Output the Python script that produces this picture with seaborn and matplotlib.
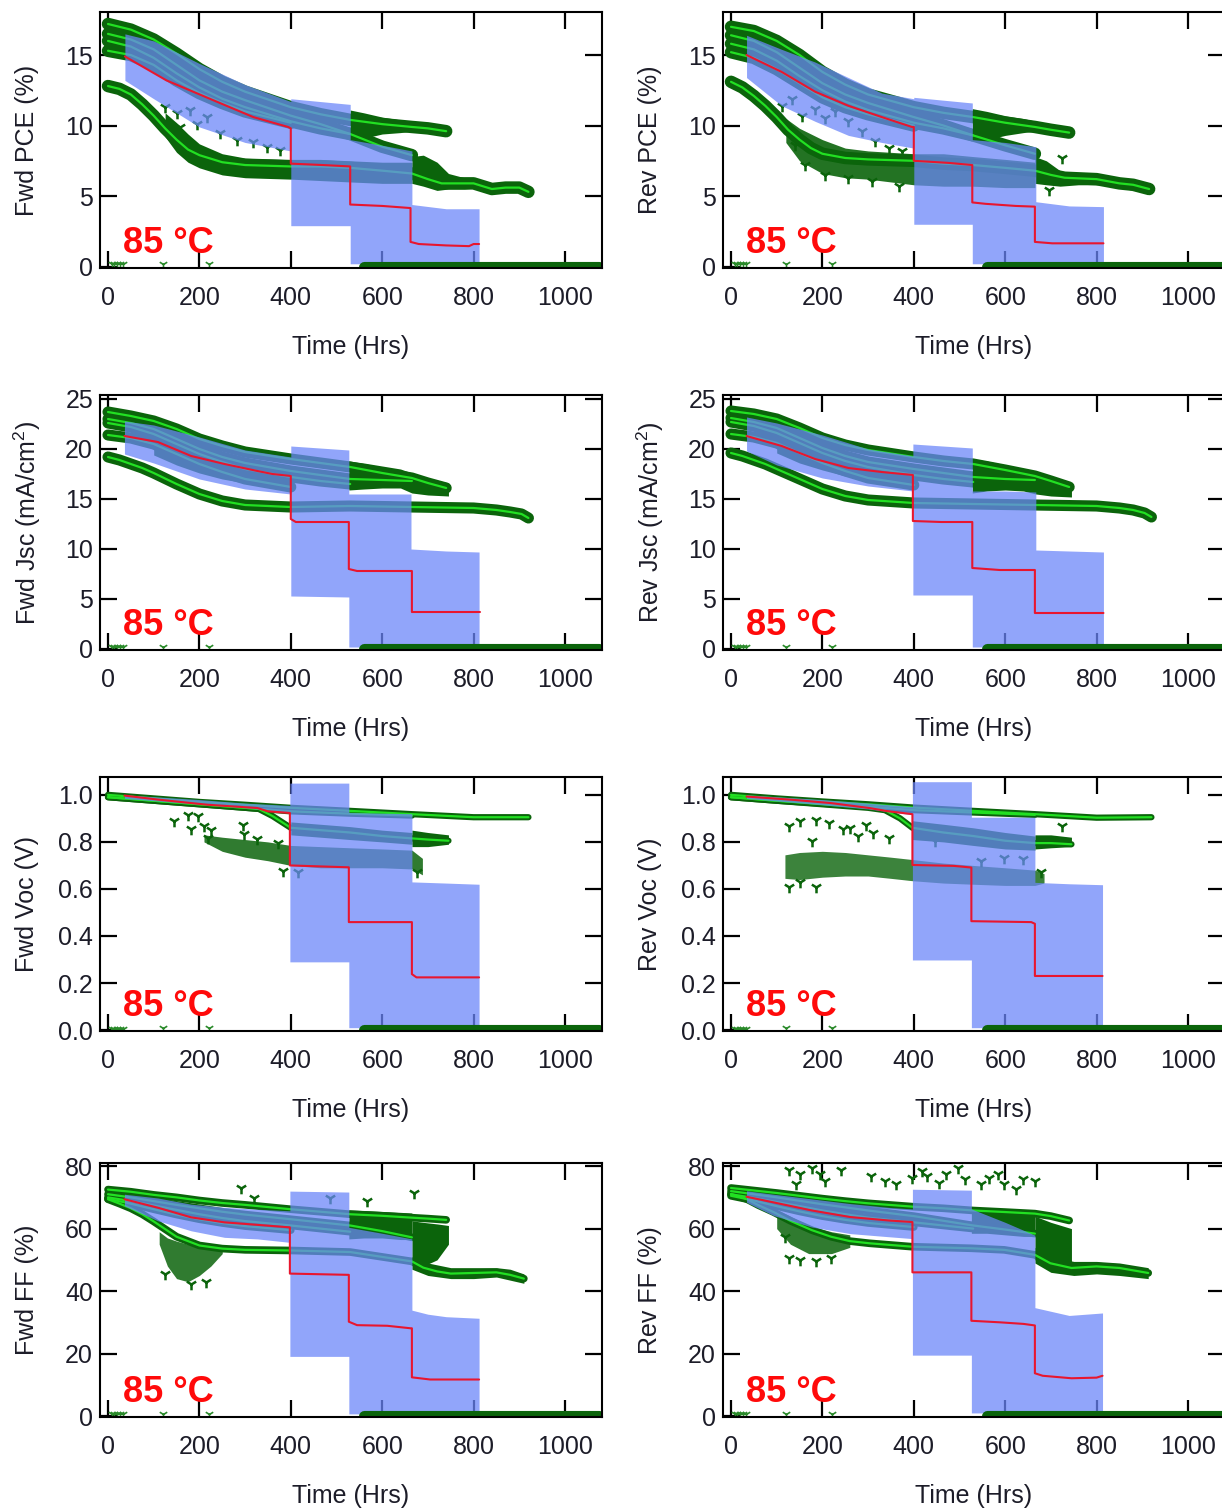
import matplotlib
matplotlib.use("Agg")
import matplotlib.pyplot as plt
import seaborn as sns

sns.set_theme(style="white")
plt.rcParams["font.family"] = ["Liberation Sans", "DejaVu Sans"]
plt.rcParams["mathtext.fontset"] = "custom"
plt.rcParams["mathtext.rm"] = "Liberation Sans"

DARK = "#0b640b"
LIME = "#22e022"
BLUE = "#6b86f9"
RED = "#e8162e"
TEXT_C = "#1c1c28"

# ---------------------------------------------------------------- time grids
HRS_TOP = [0, 50, 100, 150, 200, 250, 300, 400, 465, 530, 600, 665, 700, 740]
EARLY_HRS = [8, 14, 20, 26, 33, 120, 222]
FAILED_HRS = [560, 1075]

# ---------------------------------------------------------------- PCE (Fwd)
fwd_pce_t1 = [17.2, 16.8, 16.1, 15.1, 14.0, 13.1, 12.4, 11.3, 10.8, 10.4, 10.1, 9.9, 9.8, 9.6]
fwd_pce_t2 = [16.5, 16.1, 15.4, 14.3, 13.2, 12.4, 11.8, 10.7, 10.1, 9.4, 8.5, 7.9]
fwd_pce_t3 = [16.0, 15.6, 14.8, 13.7, 12.7, 11.9, 11.3, 10.3, 9.8, 9.4]
fwd_pce_t4 = [15.3, 15.0, 14.3, 13.2, 12.3, 11.6, 11.0, 10.2]
fwd_pce_l_hrs = [0, 25, 50, 75, 100, 125, 150, 175, 200, 250, 300, 400, 465, 530, 600, 665,
                 700, 730, 800, 840, 870, 900, 920]
fwd_pce_l = [12.8, 12.6, 12.2, 11.5, 10.7, 9.8, 9.0, 8.3, 7.9, 7.4, 7.2, 7.1, 7.1, 7.0, 6.8, 6.6,
             6.2, 5.9, 5.9, 5.5, 5.6, 5.6, 5.3]
fwd_pce_s1_hrs = [125, 150, 175, 200, 250, 300, 400, 465, 530, 600, 665]
fwd_pce_s1_lo = [9.2, 8.1, 7.4, 7.0, 6.5, 6.3, 6.2, 6.1, 6.0, 5.9, 5.9]
fwd_pce_s1_hi = [10.9, 10.2, 9.4, 8.7, 8.0, 7.7, 7.6, 7.6, 7.5, 7.4, 7.4]
fwd_pce_s2_hrs = [665, 690, 720, 745, 780, 812]
fwd_pce_s2_lo = [5.9, 5.7, 5.4, 5.5, 5.5, 5.6]
fwd_pce_s2_hi = [7.8, 7.9, 7.4, 6.6, 6.3, 6.2]
fwd_pce_s3_hrs = [530, 560, 600, 640, 665, 700, 740]
fwd_pce_s3_lo = [9.2, 9.1, 9.4, 9.5, 9.6, 9.5, 9.3]
fwd_pce_s3_hi = [11.1, 10.9, 10.6, 10.4, 10.3, 10.1, 9.8]
fwd_pce_band_hrs = [37, 100, 200, 300, 400, 400, 530, 530, 600, 665, 665, 740, 812]
fwd_pce_band_hi = [16.5, 16.0, 14.4, 12.9, 11.7, 11.9, 11.5, 9.0, 8.6, 8.2, 4.4, 4.1, 4.1]
fwd_pce_band_lo = [13.2, 11.9, 9.9, 8.8, 8.2, 2.9, 2.9, 0.2, 0.2, 0.2, 0.2, 0.2, 0.2]
fwd_pce_mean_hrs = [37, 128, 230, 318, 394, 400, 400, 470, 530, 530, 600, 662, 662, 680, 740, 790, 800, 812]
fwd_pce_mean = [14.9, 13.2, 11.8, 10.6, 9.9, 9.8, 7.3, 7.2, 7.1, 4.4, 4.3, 4.15, 1.75, 1.6, 1.5, 1.45, 1.6, 1.6]
fwd_pce_out_hrs = [125, 151, 179, 216, 157, 194, 245, 282, 318, 347, 376]
fwd_pce_out = [11.3, 10.9, 11.1, 10.6, 9.9, 10.1, 9.5, 9.0, 8.8, 8.5, 8.3]
pce_early = [0.15, 0.15, 0.15, 0.15, 0.15, 0.2, 0.2]

# ---------------------------------------------------------------- PCE (Rev)
rev_pce_t1 = [17.0, 16.7, 16.0, 15.0, 13.8, 12.9, 12.2, 11.3, 10.9, 10.6, 10.2, 9.9, 9.7, 9.5]
rev_pce_t2 = [16.4, 16.0, 15.2, 14.1, 13.0, 12.2, 11.6, 10.6, 10.0, 9.3, 8.6, 8.0]
rev_pce_t3 = [15.8, 15.4, 14.6, 13.5, 12.5, 11.7, 11.1, 10.2, 9.8, 9.3]
rev_pce_t4 = [15.2, 14.8, 14.0, 13.0, 12.0, 11.3, 10.8, 10.0]
rev_pce_l_hrs = [0, 25, 50, 75, 100, 125, 150, 175, 200, 250, 300, 400, 465, 530, 600, 665,
                 700, 730, 800, 850, 880, 915]
rev_pce_l = [13.1, 12.7, 12.1, 11.4, 10.6, 9.7, 9.0, 8.4, 8.0, 7.7, 7.6, 7.5, 7.3, 7.2, 7.0, 6.8,
             6.5, 6.3, 6.2, 5.9, 5.8, 5.5]
rev_pce_s1_hrs = [120, 150, 200, 250, 300, 400, 465, 530, 600, 665]
rev_pce_s1_lo = [8.8, 7.5, 6.6, 6.3, 6.2, 5.8, 5.7, 5.7, 5.6, 5.6]
rev_pce_s1_hi = [10.5, 9.8, 9.0, 8.4, 8.2, 8.0, 8.0, 7.8, 7.6, 7.4]
rev_pce_s2_hrs = [665, 690, 720, 760, 812, 850, 880, 915]
rev_pce_s2_lo = [5.9, 5.8, 5.7, 5.8, 5.8, 5.6, 5.4, 5.3]
rev_pce_s2_hi = [7.8, 7.5, 6.8, 6.5, 6.4, 6.2, 6.0, 5.7]
rev_pce_s3_hrs = [528, 560, 600, 640, 667, 700, 740]
rev_pce_s3_lo = [9.1, 9.0, 9.3, 9.5, 9.6, 9.5, 9.3]
rev_pce_s3_hi = [11.2, 11.0, 10.7, 10.5, 10.3, 10.1, 9.8]
rev_pce_band_hrs = [34, 111, 184, 257, 330, 400, 400, 528, 528, 600, 667, 667, 740, 815]
rev_pce_band_hi = [16.4, 15.4, 14.5, 13.4, 12.3, 11.9, 12.0, 11.6, 9.0, 8.8, 8.5, 4.6, 4.3, 4.25]
rev_pce_band_lo = [13.4, 11.4, 10.3, 9.3, 8.8, 8.4, 3.0, 3.0, 0.2, 0.2, 0.2, 0.2, 0.2, 0.2]
rev_pce_mean_hrs = [34, 111, 184, 257, 330, 396, 400, 400, 477, 528, 528, 557, 623, 665, 665, 703, 815]
rev_pce_mean = [15.0, 13.8, 12.4, 11.4, 10.6, 9.9, 9.9, 7.5, 7.35, 7.2, 4.55, 4.45, 4.3, 4.25, 1.75, 1.65, 1.65]
rev_pce_out_hrs = [111, 133, 155, 184, 206, 228, 257, 287, 316, 345, 374, 140, 162, 206, 257, 309, 367, 696, 725]
rev_pce_out = [11.4, 11.9, 10.7, 11.2, 10.5, 11.0, 10.3, 9.6, 8.9, 8.4, 8.2, 8.6, 7.2, 6.5, 6.3, 6.1, 5.7, 5.4, 7.7]

# ---------------------------------------------------------------- Jsc (Fwd)
fwd_jsc_t1 = [23.7, 23.3, 22.8, 22.0, 21.0, 20.3, 19.7, 19.0, 18.6, 18.2, 17.6, 17.1, 16.6, 16.1]
fwd_jsc_t2 = [23.0, 22.6, 22.0, 21.0, 20.0, 19.2, 18.6, 17.8, 17.4, 17.0, 16.9, 16.8]
fwd_jsc_t3 = [22.6, 22.2, 21.5, 20.5, 19.5, 18.7, 18.0, 17.2, 16.8, 16.5]
fwd_jsc_t4 = [21.4, 21.1, 20.5, 19.5, 18.5, 17.7, 17.0, 16.2]
jsc_l_hrs = [0, 25, 50, 75, 100, 150, 200, 250, 300, 400, 530, 665, 800, 850, 880, 905, 920]
fwd_jsc_l = [19.2, 18.9, 18.5, 18.1, 17.6, 16.5, 15.5, 14.8, 14.4, 14.2, 14.3, 14.2, 14.1, 13.9, 13.7, 13.5, 13.1]
fwd_jsc_s1_hrs = [100, 150, 200, 250, 300, 350, 400]
fwd_jsc_s1_lo = [19.4, 18.4, 17.6, 17.0, 16.6, 16.4, 16.2]
fwd_jsc_s1_hi = [20.4, 19.7, 18.9, 18.1, 17.6, 17.2, 17.0]
fwd_jsc_s2_hrs = [527, 560, 600, 640, 665, 700, 745]
fwd_jsc_s2_lo = [15.9, 16.0, 16.1, 16.1, 15.6, 15.4, 15.3]
fwd_jsc_s2_hi = [18.8, 18.6, 18.3, 18.0, 17.6, 17.1, 16.6]
fwd_jsc_band_hrs = [36, 100, 200, 300, 400, 400, 527, 527, 600, 663, 663, 740, 812]
fwd_jsc_band_hi = [22.8, 22.4, 21.2, 19.9, 19.2, 20.3, 19.9, 15.5, 15.5, 15.5, 10.0, 9.8, 9.7]
fwd_jsc_band_lo = [19.5, 18.6, 17.0, 16.0, 15.5, 5.3, 5.2, 0.2, 0.2, 0.2, 0.2, 0.2, 0.2]
fwd_jsc_mean_hrs = [36, 109, 182, 255, 327, 360, 400, 400, 411, 527, 527, 545, 665, 665, 814]
fwd_jsc_mean = [21.3, 20.7, 19.3, 18.5, 17.8, 17.5, 17.3, 13.0, 12.7, 12.7, 8.0, 7.8, 7.8, 3.7, 3.7]
jsc_early = [0.2, 0.2, 0.2, 0.2, 0.2, 0.25, 0.25]

# ---------------------------------------------------------------- Jsc (Rev)
rev_jsc_t1 = [23.8, 23.5, 23.0, 22.1, 21.1, 20.4, 19.9, 19.2, 18.8, 18.5, 17.9, 17.3, 16.8, 16.2]
rev_jsc_t2 = [23.1, 22.7, 22.1, 21.1, 20.1, 19.3, 18.7, 18.0, 17.6, 17.2, 17.0, 16.9]
rev_jsc_t3 = [22.7, 22.3, 21.6, 20.6, 19.6, 18.8, 18.2, 17.4, 17.0, 16.7]
rev_jsc_t4 = [21.5, 21.2, 20.6, 19.6, 18.6, 17.8, 17.1, 16.4]
rev_jsc_l = [19.6, 19.3, 18.9, 18.5, 18.0, 17.0, 16.0, 15.3, 14.9, 14.6, 14.5, 14.4, 14.3, 14.1, 13.9, 13.6, 13.2]
rev_jsc_s1_hrs = [100, 150, 200, 250, 300, 350, 398]
rev_jsc_s1_lo = [19.6, 18.6, 17.9, 17.3, 16.9, 16.7, 16.5]
rev_jsc_s1_hi = [20.6, 19.9, 19.1, 18.3, 17.8, 17.4, 17.2]
rev_jsc_s2_hrs = [528, 560, 600, 640, 667, 700, 745]
rev_jsc_s2_lo = [15.6, 15.8, 15.9, 15.8, 15.5, 15.3, 15.2]
rev_jsc_s2_hi = [19.0, 18.8, 18.4, 18.0, 17.7, 17.2, 16.6]
rev_jsc_band_hrs = [34, 100, 200, 300, 398, 398, 528, 528, 600, 667, 667, 740, 815]
rev_jsc_band_hi = [23.2, 22.6, 21.4, 20.0, 19.3, 20.5, 20.1, 15.8, 15.8, 15.7, 9.9, 9.8, 9.7]
rev_jsc_band_lo = [19.8, 18.4, 17.1, 16.3, 15.8, 5.4, 5.4, 0.2, 0.2, 0.2, 0.2, 0.2, 0.2]
rev_jsc_mean_hrs = [34, 111, 184, 257, 330, 398, 398, 460, 528, 528, 588, 665, 665, 815]
rev_jsc_mean = [21.3, 20.3, 19.0, 18.1, 17.7, 17.4, 12.8, 12.7, 12.7, 8.1, 7.9, 7.9, 3.6, 3.6]

# ---------------------------------------------------------------- Voc (Fwd)
voc_a_hrs = [0, 100, 200, 300, 400, 530, 665, 800, 920]
voc_b_hrs = [0, 100, 200, 300, 400, 530, 665]
fwd_voc_a = [1.0, 0.985, 0.97, 0.958, 0.945, 0.932, 0.918, 0.905, 0.905]
fwd_voc_b = [0.99, 0.975, 0.96, 0.945, 0.93, 0.92, 0.912]
fwd_voc_c_hrs = [0, 100, 200, 300, 330, 360, 400, 465, 530, 600, 665, 700, 745]
fwd_voc_c = [0.99, 0.975, 0.96, 0.945, 0.94, 0.91, 0.86, 0.85, 0.84, 0.825, 0.815, 0.81, 0.805]
fwd_voc_s1_hrs = [210, 250, 300, 350, 400, 465, 530, 600, 665, 688]
fwd_voc_s1_lo = [0.80, 0.76, 0.735, 0.72, 0.70, 0.69, 0.69, 0.69, 0.685, 0.66]
fwd_voc_s1_hi = [0.83, 0.82, 0.81, 0.80, 0.785, 0.78, 0.775, 0.77, 0.765, 0.73]
fwd_voc_s2_hrs = [665, 700, 745]
fwd_voc_s2_lo = [0.78, 0.78, 0.79]
fwd_voc_s2_hi = [0.85, 0.84, 0.83]
fwd_voc_s3_hrs = [400, 465, 530, 600, 665]
fwd_voc_s3_lo = [0.83, 0.82, 0.81, 0.80, 0.79]
fwd_voc_s3_hi = [0.885, 0.875, 0.865, 0.85, 0.84]
fwd_voc_band_hrs = [36, 200, 300, 398, 398, 527, 527, 600, 665, 665, 740, 812]
fwd_voc_band_hi = [1.0, 0.98, 0.965, 0.955, 1.05, 1.05, 0.925, 0.922, 0.92, 0.63, 0.625, 0.62]
fwd_voc_band_lo = [0.985, 0.96, 0.945, 0.925, 0.29, 0.29, 0.01, 0.01, 0.01, 0.01, 0.01, 0.01]
fwd_voc_mean_hrs = [36, 109, 218, 327, 350, 398, 398, 527, 527, 665, 665, 675, 812]
fwd_voc_mean = [0.997, 0.98, 0.958, 0.944, 0.93, 0.923, 0.70, 0.692, 0.459, 0.459, 0.238, 0.224, 0.224]
fwd_voc_out_hrs = [145, 175, 196, 182, 211, 225, 295, 298, 327, 371, 382, 415, 218, 676]
fwd_voc_out = [0.891, 0.916, 0.912, 0.853, 0.867, 0.849, 0.874, 0.832, 0.811, 0.797, 0.678, 0.671, 0.818, 0.671]
voc_early = [0.006, 0.006, 0.006, 0.006, 0.006, 0.008, 0.008]

# ---------------------------------------------------------------- Voc (Rev)
rev_voc_a = [1.0, 0.985, 0.972, 0.96, 0.946, 0.932, 0.918, 0.903, 0.905]
rev_voc_b = [0.99, 0.975, 0.962, 0.95, 0.935, 0.925, 0.915]
rev_voc_c_hrs = [0, 100, 200, 300, 337, 370, 397, 465, 530, 600, 665, 700, 745]
rev_voc_c = [0.99, 0.975, 0.96, 0.945, 0.935, 0.90, 0.86, 0.84, 0.825, 0.805, 0.795, 0.795, 0.79]
rev_voc_s1_hrs = [118, 150, 200, 250, 300, 350, 397, 465, 530, 600, 665, 685]
rev_voc_s1_lo = [0.645, 0.64, 0.65, 0.655, 0.655, 0.645, 0.635, 0.625, 0.62, 0.615, 0.615, 0.625]
rev_voc_s1_hi = [0.745, 0.755, 0.76, 0.755, 0.745, 0.735, 0.725, 0.71, 0.70, 0.69, 0.68, 0.665]
rev_voc_s2_hrs = [665, 700, 745]
rev_voc_s2_lo = [0.77, 0.775, 0.78]
rev_voc_s2_hi = [0.83, 0.83, 0.82]
rev_voc_s3_hrs = [397, 465, 530, 600, 665]
rev_voc_s3_lo = [0.81, 0.80, 0.785, 0.77, 0.765]
rev_voc_s3_hi = [0.89, 0.875, 0.86, 0.84, 0.825]
rev_voc_band_hrs = [34, 200, 300, 397, 397, 526, 526, 600, 665, 665, 740, 813]
rev_voc_band_hi = [1.0, 0.98, 0.965, 0.95, 1.056, 1.056, 0.905, 0.905, 0.905, 0.628, 0.622, 0.618]
rev_voc_band_lo = [0.985, 0.958, 0.94, 0.915, 0.298, 0.298, 0.01, 0.01, 0.01, 0.01, 0.01, 0.01]
rev_voc_mean_hrs = [34, 135, 219, 303, 345, 397, 397, 488, 526, 526, 657, 665, 665, 813]
rev_voc_mean = [0.993, 0.979, 0.965, 0.944, 0.93, 0.918, 0.702, 0.698, 0.691, 0.463, 0.459, 0.452, 0.23, 0.23]
rev_voc_out_hrs = [126, 152, 185, 215, 244, 261, 295, 311, 126, 152, 185, 177, 278, 345, 446, 547, 598, 640, 678, 724]
rev_voc_out = [0.867, 0.888, 0.895, 0.881, 0.853, 0.860, 0.874, 0.838, 0.607, 0.628, 0.607, 0.803, 0.824,
               0.817, 0.803, 0.719, 0.733, 0.726, 0.67, 0.867]

# ---------------------------------------------------------------- FF (Fwd)
fwd_ff_a = [72.5, 71.8, 70.8, 70.0, 69.0, 68.2, 67.6, 66.2, 65.4, 64.6, 64.1, 63.5, 63.2, 62.8]
fwd_ff_b = [71.0, 70.0, 68.8, 67.6, 66.5, 65.4, 64.5, 63.0, 62.0, 61.0, 59.2, 57.2]
fwd_ff_c = [70.0, 68.8, 67.4, 66.0, 64.6, 63.4, 62.4, 61.0, 60.0, 59.0]
fwd_ff_d = [69.5, 68.0, 66.2, 64.5, 63.0, 61.8, 60.8, 59.5]
fwd_ff_l_hrs = [0, 25, 50, 75, 100, 150, 200, 250, 300, 400, 530, 665, 690, 720, 750, 800, 850, 880, 910]
fwd_ff_l = [69.4, 68.0, 66.5, 64.6, 62.3, 57.4, 54.6, 53.6, 53.2, 53.0, 52.5, 49.5, 47.5, 46.3, 45.6,
            45.8, 46.0, 45.2, 44.0]
fwd_ff_s1_hrs = [112, 130, 150, 175, 200, 225, 250]
fwd_ff_s1_lo = [55, 48, 44, 43, 45, 48, 52]
fwd_ff_s1_hi = [59, 57, 56, 55, 55, 54, 54]
fwd_ff_s2_hrs = [665, 690, 720, 745]
fwd_ff_s2_lo = [49, 48, 50, 55]
fwd_ff_s2_hi = [62.5, 62, 61.5, 61]
fwd_ff_s3_hrs = [665, 700, 750, 800, 850, 880, 910]
fwd_ff_s3_lo = [47, 45, 44, 44, 44.5, 43.5, 42.5]
fwd_ff_s3_hi = [51, 49, 47.5, 47.5, 47.5, 47, 45.5]
fwd_ff_s4_hrs = [527, 560, 600, 640, 665]
fwd_ff_s4_lo = [56.7, 57, 57, 56.5, 56.5]
fwd_ff_s4_hi = [66.0, 65.8, 65.5, 65.2, 65.0]
fwd_ff_band_hrs = [36, 109, 182, 255, 327, 398, 398, 527, 527, 600, 665, 665, 700, 740, 812]
fwd_ff_band_hi = [71.0, 69.8, 67.8, 66.8, 66.2, 65.7, 72.0, 71.7, 60.4, 58.5, 56.7, 33.9, 32.6, 31.8, 31.3]
fwd_ff_band_lo = [67.3, 62.5, 59.3, 57.2, 56.7, 55.6, 19.1, 19.1, 0.7, 0.7, 0.7, 0.7, 0.7, 0.7, 0.7]
fwd_ff_mean_hrs = [36, 109, 182, 255, 327, 398, 398, 527, 527, 545, 611, 662, 665, 665, 705, 812]
fwd_ff_mean = [69.4, 66.7, 63.6, 62.0, 61.2, 60.4, 45.6, 45.2, 30.2, 29.1, 28.9, 28.1, 28.1, 12.4, 11.7, 11.7]
fwd_ff_out_hrs = [291, 320, 486, 567, 669, 182, 215, 124]
fwd_ff_out = [73.1, 69.9, 69.9, 68.9, 71.3, 42.4, 42.9, 45.6]
ff_early = [0.6, 0.6, 0.6, 0.6, 0.6, 0.8, 0.8]

# ---------------------------------------------------------------- FF (Rev)
rev_ff_a = [73.0, 72.2, 71.4, 70.5, 69.6, 68.8, 68.1, 67.0, 66.5, 65.8, 65.3, 64.8, 64.0, 62.6]
rev_ff_b = [72.0, 71.0, 70.0, 68.9, 67.8, 66.8, 65.8, 64.0, 62.5, 61.0, 59.7, 58.4]
rev_ff_c = [71.0, 69.8, 68.5, 67.2, 65.8, 64.6, 63.5, 62.0, 61.0, 60.0]
rev_ff_d = [70.5, 69.0, 67.2, 65.5, 64.0, 62.8, 61.8, 60.5]
rev_ff_l_hrs = [0, 34, 60, 93, 130, 177, 219, 260, 303, 397, 526, 598, 665, 699, 745, 800, 850, 913]
rev_ff_l = [71.1, 69.5, 67.5, 65.3, 62.5, 59.5, 57.4, 56.0, 55.3, 54.2, 53.7, 53.2, 51.6, 48.9, 47.4,
            47.9, 47.4, 45.8]
rev_ff_s1_hrs = [100, 130, 170, 220, 260]
rev_ff_s1_lo = [60, 55, 52, 52, 54]
rev_ff_s1_hi = [66, 64, 61, 59, 58]
rev_ff_s2_hrs = [665, 700, 745]
rev_ff_s2_lo = [50, 47, 48]
rev_ff_s2_hi = [64, 62, 60]
rev_ff_s3_hrs = [665, 700, 750, 800, 850, 913]
rev_ff_s3_lo = [49, 46, 45, 45.5, 45, 44]
rev_ff_s3_hi = [54, 51, 49.5, 49.5, 49, 47.5]
rev_ff_s4_hrs = [526, 560, 600, 640, 665]
rev_ff_s4_lo = [58.5, 58.5, 58.0, 57.5, 57.5]
rev_ff_s4_hi = [67.0, 66.5, 66.0, 65.5, 65.0]
rev_ff_band_hrs = [34, 93, 177, 261, 303, 345, 397, 397, 526, 526, 600, 665, 665, 740, 813]
rev_ff_band_hi = [72.1, 71.0, 69.5, 68.0, 67.4, 66.8, 66.3, 72.6, 72.3, 66.3, 62.0, 57.9, 34.7, 32.2, 33.0]
rev_ff_band_lo = [68.4, 64.2, 60.5, 58.4, 57.9, 57.4, 56.8, 19.5, 19.5, 1.0, 1.0, 1.0, 1.0, 1.0, 1.0]
rev_ff_mean_hrs = [34, 93, 177, 261, 345, 397, 397, 526, 526, 589, 640, 665, 665, 682, 745, 800, 813]
rev_ff_mean = [70.2, 68.4, 65.8, 63.7, 62.6, 62.1, 46.0, 46.0, 30.5, 30.0, 29.5, 29.0, 13.7, 12.9, 12.1, 12.3, 12.9]
rev_ff_out_hrs = [126, 152, 177, 194, 206, 240, 143, 307, 337, 362, 396, 417, 429, 455, 471, 497, 513,
                  547, 564, 585, 598, 623, 640, 665, 126, 152, 185, 219, 118]
rev_ff_out = [78.9, 77.4, 79.5, 77.4, 75.3, 78.9, 74.2, 76.8, 75.3, 74.2, 76.3, 78.4, 76.8, 74.7, 77.4,
              79.5, 75.8, 74.2, 76.3, 77.4, 74.2, 72.6, 75.8, 75.3, 50.5, 50.0, 49.5, 50.5, 57.4]

# ---------------------------------------------------------------- panel layout
ROW_TOP_PX = [12, 395, 777, 1163]
ROW_BOT_PX = [268, 650, 1031, 1417]
COL_LEFT_PX = [100, 723]
AX_W_PX = 502
FIG_W, FIG_H = 1222, 1511

JSC_LABEL = "Jsc (mA/cm$^{\\mathregular{2}}$)"

PANELS = [
    dict(col=0, row=0, ylabel="Fwd PCE (%)", ylim=(-0.1, 18.05), yticks=[0, 5, 10, 15], fmt="{:.0f}",
         lw=9, cloud_alpha=[1.0, 1.0, 1.0],
         devices=[(HRS_TOP, fwd_pce_t1), (HRS_TOP, fwd_pce_t2), (HRS_TOP, fwd_pce_t3),
                  (HRS_TOP, fwd_pce_t4), (fwd_pce_l_hrs, fwd_pce_l)],
         spreads=[(fwd_pce_s1_hrs, fwd_pce_s1_lo, fwd_pce_s1_hi), (fwd_pce_s2_hrs, fwd_pce_s2_lo, fwd_pce_s2_hi),
                  (fwd_pce_s3_hrs, fwd_pce_s3_lo, fwd_pce_s3_hi)],
         band=(fwd_pce_band_hrs, fwd_pce_band_lo, fwd_pce_band_hi),
         mean=(fwd_pce_mean_hrs, fwd_pce_mean), outliers=(fwd_pce_out_hrs, fwd_pce_out), early=pce_early),
    dict(col=1, row=0, ylabel="Rev PCE (%)", ylim=(-0.1, 18.05), yticks=[0, 5, 10, 15], fmt="{:.0f}",
         lw=9, cloud_alpha=[0.9, 1.0, 1.0],
         devices=[(HRS_TOP, rev_pce_t1), (HRS_TOP, rev_pce_t2), (HRS_TOP, rev_pce_t3),
                  (HRS_TOP, rev_pce_t4), (rev_pce_l_hrs, rev_pce_l)],
         spreads=[(rev_pce_s1_hrs, rev_pce_s1_lo, rev_pce_s1_hi), (rev_pce_s2_hrs, rev_pce_s2_lo, rev_pce_s2_hi),
                  (rev_pce_s3_hrs, rev_pce_s3_lo, rev_pce_s3_hi)],
         band=(rev_pce_band_hrs, rev_pce_band_lo, rev_pce_band_hi),
         mean=(rev_pce_mean_hrs, rev_pce_mean), outliers=(rev_pce_out_hrs, rev_pce_out), early=pce_early),
    dict(col=0, row=1, ylabel="Fwd " + JSC_LABEL, ylim=(-0.1, 25.4), yticks=[0, 5, 10, 15, 20, 25], fmt="{:.0f}",
         lw=8, cloud_alpha=[1.0, 1.0],
         devices=[(HRS_TOP, fwd_jsc_t1), (HRS_TOP, fwd_jsc_t2), (HRS_TOP, fwd_jsc_t3),
                  (HRS_TOP, fwd_jsc_t4), (jsc_l_hrs, fwd_jsc_l)],
         spreads=[(fwd_jsc_s1_hrs, fwd_jsc_s1_lo, fwd_jsc_s1_hi), (fwd_jsc_s2_hrs, fwd_jsc_s2_lo, fwd_jsc_s2_hi)],
         band=(fwd_jsc_band_hrs, fwd_jsc_band_lo, fwd_jsc_band_hi),
         mean=(fwd_jsc_mean_hrs, fwd_jsc_mean), outliers=([], []), early=jsc_early),
    dict(col=1, row=1, ylabel="Rev " + JSC_LABEL, ylim=(-0.1, 25.4), yticks=[0, 5, 10, 15, 20, 25], fmt="{:.0f}",
         lw=8, cloud_alpha=[1.0, 1.0],
         devices=[(HRS_TOP, rev_jsc_t1), (HRS_TOP, rev_jsc_t2), (HRS_TOP, rev_jsc_t3),
                  (HRS_TOP, rev_jsc_t4), (jsc_l_hrs, rev_jsc_l)],
         spreads=[(rev_jsc_s1_hrs, rev_jsc_s1_lo, rev_jsc_s1_hi), (rev_jsc_s2_hrs, rev_jsc_s2_lo, rev_jsc_s2_hi)],
         band=(rev_jsc_band_hrs, rev_jsc_band_lo, rev_jsc_band_hi),
         mean=(rev_jsc_mean_hrs, rev_jsc_mean), outliers=([], []), early=jsc_early),
    dict(col=0, row=2, ylabel="Fwd Voc (V)", ylim=(-0.004, 1.076), yticks=[0, 0.2, 0.4, 0.6, 0.8, 1.0],
         fmt="{:.1f}", lw=4.5, cloud_alpha=[0.85, 1.0, 1.0],
         devices=[(voc_a_hrs, fwd_voc_a), (voc_b_hrs, fwd_voc_b), (fwd_voc_c_hrs, fwd_voc_c)],
         spreads=[(fwd_voc_s1_hrs, fwd_voc_s1_lo, fwd_voc_s1_hi), (fwd_voc_s2_hrs, fwd_voc_s2_lo, fwd_voc_s2_hi),
                  (fwd_voc_s3_hrs, fwd_voc_s3_lo, fwd_voc_s3_hi)],
         band=(fwd_voc_band_hrs, fwd_voc_band_lo, fwd_voc_band_hi),
         mean=(fwd_voc_mean_hrs, fwd_voc_mean), outliers=(fwd_voc_out_hrs, fwd_voc_out), early=voc_early),
    dict(col=1, row=2, ylabel="Rev Voc (V)", ylim=(-0.004, 1.076), yticks=[0, 0.2, 0.4, 0.6, 0.8, 1.0],
         fmt="{:.1f}", lw=4.5, cloud_alpha=[0.8, 1.0, 1.0],
         devices=[(voc_a_hrs, rev_voc_a), (voc_b_hrs, rev_voc_b), (rev_voc_c_hrs, rev_voc_c)],
         spreads=[(rev_voc_s1_hrs, rev_voc_s1_lo, rev_voc_s1_hi), (rev_voc_s2_hrs, rev_voc_s2_lo, rev_voc_s2_hi),
                  (rev_voc_s3_hrs, rev_voc_s3_lo, rev_voc_s3_hi)],
         band=(rev_voc_band_hrs, rev_voc_band_lo, rev_voc_band_hi),
         mean=(rev_voc_mean_hrs, rev_voc_mean), outliers=(rev_voc_out_hrs, rev_voc_out), early=voc_early),
    dict(col=0, row=3, ylabel="Fwd FF (%)", ylim=(-0.3, 81.0), yticks=[0, 20, 40, 60, 80], fmt="{:.0f}",
         lw=5.5, cloud_alpha=[0.85, 1.0, 1.0, 1.0],
         devices=[(HRS_TOP, fwd_ff_a), (HRS_TOP, fwd_ff_b), (HRS_TOP, fwd_ff_c), (HRS_TOP, fwd_ff_d),
                  (fwd_ff_l_hrs, fwd_ff_l)],
         spreads=[(fwd_ff_s1_hrs, fwd_ff_s1_lo, fwd_ff_s1_hi), (fwd_ff_s2_hrs, fwd_ff_s2_lo, fwd_ff_s2_hi),
                  (fwd_ff_s3_hrs, fwd_ff_s3_lo, fwd_ff_s3_hi), (fwd_ff_s4_hrs, fwd_ff_s4_lo, fwd_ff_s4_hi)],
         band=(fwd_ff_band_hrs, fwd_ff_band_lo, fwd_ff_band_hi),
         mean=(fwd_ff_mean_hrs, fwd_ff_mean), outliers=(fwd_ff_out_hrs, fwd_ff_out), early=ff_early),
    dict(col=1, row=3, ylabel="Rev FF (%)", ylim=(-0.3, 81.0), yticks=[0, 20, 40, 60, 80], fmt="{:.0f}",
         lw=5.5, cloud_alpha=[0.85, 1.0, 1.0, 1.0],
         devices=[(HRS_TOP, rev_ff_a), (HRS_TOP, rev_ff_b), (HRS_TOP, rev_ff_c), (HRS_TOP, rev_ff_d),
                  (rev_ff_l_hrs, rev_ff_l)],
         spreads=[(rev_ff_s1_hrs, rev_ff_s1_lo, rev_ff_s1_hi), (rev_ff_s2_hrs, rev_ff_s2_lo, rev_ff_s2_hi),
                  (rev_ff_s3_hrs, rev_ff_s3_lo, rev_ff_s3_hi), (rev_ff_s4_hrs, rev_ff_s4_lo, rev_ff_s4_hi)],
         band=(rev_ff_band_hrs, rev_ff_band_lo, rev_ff_band_hi),
         mean=(rev_ff_mean_hrs, rev_ff_mean), outliers=(rev_ff_out_hrs, rev_ff_out), early=ff_early),
]


def line(ax, x, y, **kw):
    sns.lineplot(x=list(x), y=list(y), ax=ax, sort=False, estimator=None, legend=False, **kw)


def draw_panel(fig, p):
    top, bot = ROW_TOP_PX[p["row"]], ROW_BOT_PX[p["row"]]
    left = COL_LEFT_PX[p["col"]]
    ax = fig.add_axes([left / FIG_W, 1 - bot / FIG_H, AX_W_PX / FIG_W, (bot - top) / FIG_H])
    ax.set_facecolor("white")
    ax.set_axisbelow(True)

    # dark scatter envelope of every cell
    for hrs, vals in p["devices"]:
        line(ax, hrs[:len(vals)], vals, color=DARK, lw=p["lw"], zorder=2,
             solid_capstyle="round", solid_joinstyle="round")
    for (hrs, lo, hi), a in zip(p["spreads"], p["cloud_alpha"]):
        ax.fill_between(hrs, lo, hi, color=DARK, alpha=a, lw=0, zorder=2)
    ox, oy = p["outliers"]
    if ox:
        sns.scatterplot(x=ox, y=oy, ax=ax, marker="1", color=DARK, s=70, linewidth=1.8,
                        legend=False, zorder=2)
    sns.scatterplot(x=EARLY_HRS, y=p["early"], ax=ax, marker="1", color="#2a8a2a", s=45,
                    linewidth=1.2, legend=False, zorder=2)

    # smoothed trace of every cell
    for hrs, vals in p["devices"]:
        line(ax, hrs[:len(vals)], vals, color=LIME, lw=1.6, zorder=2.5)

    # mean +/- standard deviation across the batch
    bx, blo, bhi = p["band"]
    ax.fill_between(bx, blo, bhi, color=BLUE, alpha=0.74, lw=0, zorder=3)
    mx, my = p["mean"]
    line(ax, mx, my, color=RED, lw=1.5, zorder=4)

    # cells that failed and sit at zero
    line(ax, FAILED_HRS, [0, 0], color=DARK, lw=8, zorder=3.5)

    ax.text(0.046, 0.058, "85 °C", transform=ax.transAxes, color="#ff0a0a", fontsize=26,
            fontweight="bold", ha="left", va="baseline", zorder=6)

    ax.set_xlim(-17.5, 1081)
    ax.set_ylim(*p["ylim"])
    ax.set_xticks([0, 200, 400, 600, 800, 1000])
    ax.set_xticklabels(["0", "200", "400", "600", "800", "1000"])
    ax.set_yticks(p["yticks"])
    ax.set_yticklabels([p["fmt"].format(v) for v in p["yticks"]])
    ax.tick_params(axis="both", which="major", direction="in", length=12, width=1.6,
                   top=True, right=True, bottom=True, left=True, color="black",
                   labelcolor=TEXT_C, labelsize=18)
    ax.tick_params(axis="x", pad=13)
    ax.tick_params(axis="y", pad=5)
    for sp in ax.spines.values():
        sp.set_visible(True)
        sp.set_color("black")
        sp.set_linewidth(1.5)
        sp.set_zorder(5)

    ax.set_xlabel("Time (Hrs)", fontsize=18, color=TEXT_C)
    ax.xaxis.label.set_va("center")
    ax.xaxis.set_label_coords(0.5, -0.31)
    ax.set_ylabel(p["ylabel"], fontsize=18, color=TEXT_C)
    ax.yaxis.label.set_va("center")
    ax.yaxis.set_label_coords(-0.145, 0.5)
    return ax


fig = plt.figure(figsize=(FIG_W / 100, FIG_H / 100), dpi=100)
fig.patch.set_facecolor("white")
for panel in PANELS:
    draw_panel(fig, panel)

fig.savefig("out.png", dpi=100, facecolor="white")
